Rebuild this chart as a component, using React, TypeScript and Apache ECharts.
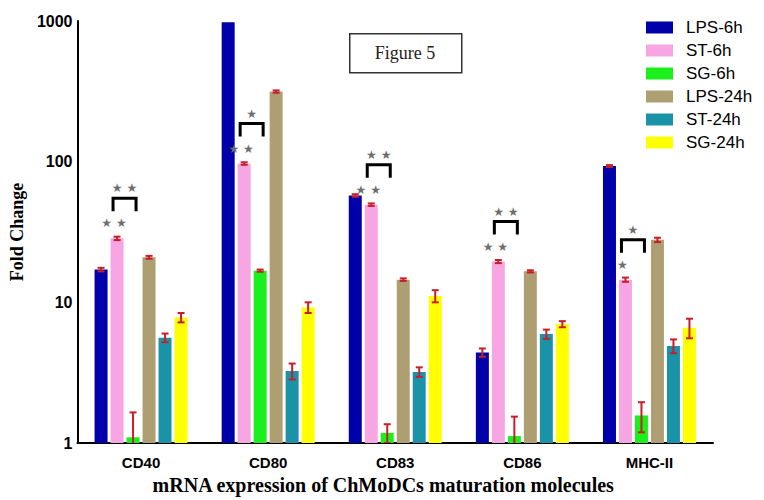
import React, { useEffect, useRef } from "react";
import * as echarts from "echarts";

const categories = ["CD40", "CD80", "CD83", "CD86", "MHC-II"];
const seriesNames = ["LPS-6h", "ST-6h", "SG-6h", "LPS-24h", "ST-24h", "SG-24h"];
const seriesColors = ["#0000aa", "#f7a6e3", "#1cf01c", "#ae9f73", "#1a93a8", "#ffff00"];

const lps6 = [17.1, 980, 57.5, 4.4, 93];
const st6 = [28.5, 97, 49.5, 19.5, 14.5];
const sg6 = [1.1, 16.8, 1.18, 1.12, 1.57];
const lps24 = [20.9, 315, 14.5, 16.6, 27.8];
const st24 = [5.6, 3.25, 3.2, 5.95, 4.9];
const sg24 = [7.8, 9.2, 11.1, 7.0, 6.6];

const lps6Err = [0.5, 0, 1.2, 0.3, 1.5];
const st6Err = [0.8, 2, 1, 0.5, 0.5];
const sg6Err = [0.55, 0.3, 0.18, 0.42, 0.38];
const lps24Err = [0.5, 6, 0.3, 0.3, 1.0];
const st24Err = [0.4, 0.42, 0.25, 0.45, 0.55];
const sg24Err = [0.6, 0.8, 1.1, 0.35, 1.05];

const pinkStars = ["★ ★", "★ ★", "★ ★", "★ ★", "★"];
const bracketStars = ["★ ★", "★", "★ ★", "★ ★", "★"];

const allValues = [lps6, st6, sg6, lps24, st24, sg24];
const allErrors = [lps6Err, st6Err, sg6Err, lps24Err, st24Err, sg24Err];

const BAR_W = 13;
const STEP = 16;

export default function App() {
  const ref = useRef<HTMLDivElement>(null);
  useEffect(() => {
    if (!ref.current) return;
    const chart = echarts.init(ref.current, undefined, { renderer: "svg" });

    const barSeries = seriesNames.map((name, i) => ({
      name,
      type: "bar",
      barWidth: BAR_W,
      barGap: "23%",
      itemStyle: { color: seriesColors[i] },
      data: allValues[i],
      z: 2,
    }));

    const errSeries = seriesNames.map((name, i) => ({
      name: name + "-err",
      type: "custom",
      coordinateSystem: "cartesian2d",
      clip: true,
      z: 5,
      data: categories.map((_, c) => [
        c,
        Math.max(allValues[i][c] - allErrors[i][c], 0.05),
        allValues[i][c] + allErrors[i][c],
        allErrors[i][c],
      ]),
      encode: { x: 0, y: [1, 2] },
      renderItem: (params: any, api: any) => {
        const err = api.value(3);
        if (!err) return null;
        const c = api.value(0);
        const lo = api.coord([c, api.value(1)]);
        const hi = api.coord([c, api.value(2)]);
        const x = lo[0] + (i - 2.5) * STEP;
        const capW = 3.5;
        const style = { stroke: "#c81e28", lineWidth: 2 };
        return {
          type: "group",
          children: [
            { type: "line", shape: { x1: x, y1: lo[1], x2: x, y2: hi[1] }, style },
            { type: "line", shape: { x1: x - capW, y1: hi[1], x2: x + capW, y2: hi[1] }, style },
            { type: "line", shape: { x1: x - capW, y1: lo[1], x2: x + capW, y2: lo[1] }, style },
          ],
        };
      },
    }));

    const sigSeries = {
      name: "sig",
      type: "custom",
      coordinateSystem: "cartesian2d",
      clip: false,
      z: 6,
      data: categories.map((_, c) => [c, st6[c]]),
      encode: { x: 0, y: 1 },
      renderItem: (params: any, api: any) => {
        const idx = params.dataIndex;
        const p = api.coord([api.value(0), api.value(1)]);
        const pinkC = p[0] - 1.5 * STEP;
        const greenC = p[0] - 0.5 * STEP;
        const y0 = p[1];
        const bl = pinkC - 4;
        const br = greenC + 3;
        const starStyle = {
          fill: "#6e6e6e",
          fontSize: 12,
          fontFamily: "DejaVu Sans",
          align: "center",
          verticalAlign: "middle",
        };
        return {
          type: "group",
          children: [
            { type: "text", style: { ...starStyle, text: pinkStars[idx], x: pinkC - 3, y: y0 - 15 } },
            {
              type: "polyline",
              shape: { points: [[bl, y0 - 27], [bl, y0 - 40], [br, y0 - 40], [br, y0 - 27]] },
              style: { stroke: "#000", lineWidth: 3, fill: "none" },
            },
            { type: "text", style: { ...starStyle, text: bracketStars[idx], x: (bl + br) / 2, y: y0 - 50 } },
          ],
        };
      },
    };

    chart.setOption({
      animation: false,
      backgroundColor: "#ffffff",
      grid: { left: 72, right: 51, top: 21, bottom: 54 },
      legend: {
        data: seriesNames,
        orient: "vertical",
        left: 641,
        top: 14,
        itemWidth: 27,
        itemHeight: 12,
        itemGap: 6,
        icon: "rect",
        textStyle: { fontSize: 17, fontFamily: "Liberation Sans", color: "#000", padding: [0, 0, 0, 8], lineHeight: 16 },
      },
      xAxis: {
        type: "category",
        data: categories,
        axisTick: { show: false },
        axisLine: { lineStyle: { color: "#000", width: 2 } },
        axisLabel: { fontSize: 15, fontWeight: "bold", fontFamily: "Liberation Sans", color: "#000", margin: 12 },
        name: "mRNA expression of ChMoDCs maturation molecules",
        nameLocation: "middle",
        nameGap: 32,
        nameTextStyle: {
          fontSize: 20,
          fontWeight: "bold",
          fontFamily: "Liberation Serif",
          color: "#000",
          padding: [0, 24, 0, 0],
        },
      },
      yAxis: {
        type: "log",
        logBase: 10,
        min: 1,
        max: 1000,
        axisLine: { show: true, lineStyle: { color: "#000", width: 2 } },
        axisTick: { show: false },
        minorTick: { show: false },
        splitLine: { show: false },
        axisLabel: {
          fontSize: 16,
          fontWeight: "bold",
          fontFamily: "Liberation Sans",
          color: "#000",
          margin: 5,
          formatter: (v: number) => String(Math.round(v)),
        },
        name: "Fold Change",
        nameLocation: "middle",
        nameGap: 36,
        nameTextStyle: { fontSize: 18, fontWeight: "bold", fontFamily: "Liberation Serif", color: "#000" },
      },
      graphic: [
        {
          type: "rect",
          left: 349,
          top: 33,
          shape: { width: 112, height: 39 },
          style: { fill: "#fff", stroke: "#333", lineWidth: 1.5 },
          z: 10,
        },
        {
          type: "text",
          x: 405,
          y: 53,
          style: {
            text: "Figure 5",
            align: "center",
            verticalAlign: "middle",
            fontSize: 18,
            fontFamily: "Liberation Serif",
            fill: "#222",
          },
          z: 11,
        },
      ],
      series: [...barSeries, ...errSeries, sigSeries],
    });

    return () => chart.dispose();
  }, []);

  return <div ref={ref} style={{ position: "absolute", left: 0, top: 0, width: 764, height: 500 }} />;
}
